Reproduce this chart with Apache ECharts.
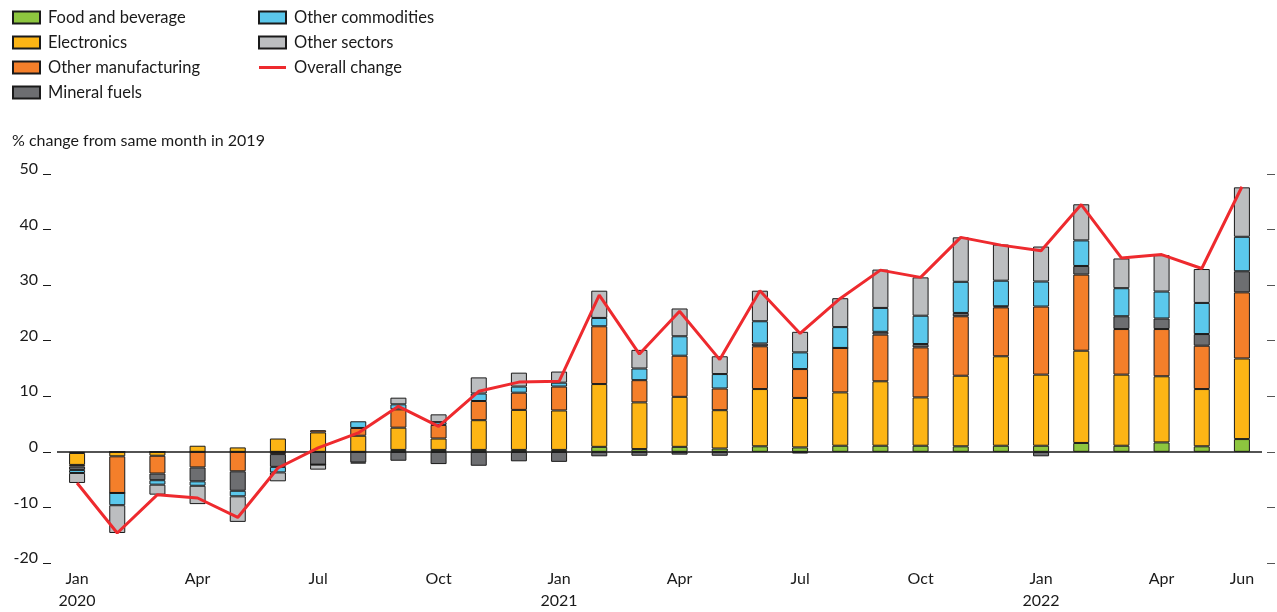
<!DOCTYPE html>
<html><head><meta charset="utf-8">
<script src="https://cdn.jsdelivr.net/npm/echarts@6/dist/echarts.min.js"></script>
<style>html,body{margin:0;padding:0;background:#fff}#c{width:1277px;height:612px}</style>
</head><body><div id="c"></div>
<script>
const months = ['Jan 2020','Feb 2020','Mar 2020','Apr 2020','May 2020','Jun 2020','Jul 2020','Aug 2020','Sep 2020','Oct 2020','Nov 2020','Dec 2020',
  'Jan 2021','Feb 2021','Mar 2021','Apr 2021','May 2021','Jun 2021','Jul 2021','Aug 2021','Sep 2021','Oct 2021','Nov 2021','Dec 2021',
  'Jan 2022','Feb 2022','Mar 2022','Apr 2022','May 2022','Jun 2022'];
const foodBeverage = [-0.2,0,0,0,0,0,0,0,0.35,0.35,0.35,0.35,0.35,0.9,0.5,0.9,0.6,1.0,0.8,1.1,1.1,1.1,1.0,1.1,1.1,1.6,1.1,1.7,1.0,2.3];
const electronics = [-2.15,-0.8,-0.7,1.1,0.8,2.4,3.5,2.9,4.0,2.05,5.35,7.2,7.1,11.3,8.4,9.0,6.9,10.3,8.9,9.6,11.6,8.7,12.7,16.1,12.8,16.6,12.8,11.9,10.3,14.5];
const otherManufacturing = [-0.3,-6.6,-3.2,-2.8,-3.5,-0.4,0.4,1.4,3.3,2.45,3.45,3.1,4.3,10.4,4.0,7.4,3.9,7.7,5.2,8.0,8.4,9.0,10.7,8.8,12.25,13.7,8.2,8.5,7.8,11.9];
const mineralFuels = [-0.6,0,-1.2,-2.5,-3.5,-2.3,-2.3,-1.9,-1.6,-2.2,-2.5,-1.7,-1.8,-0.8,-0.7,-0.5,-0.7,0.5,-0.3,0,0.5,0.6,0.6,0.2,-0.8,1.55,2.3,1.9,2.1,3.8];
const otherCommodities = [-0.55,-2.2,-0.8,-0.8,-1.0,-1.0,0,1.2,0.9,0.5,1.35,1.1,0.7,1.5,2.1,3.5,2.6,4.0,3.0,3.75,4.3,5.1,5.6,4.6,4.5,4.6,5.05,4.85,5.6,6.2];
const otherSectors = [-1.8,-5.0,-1.8,-3.3,-4.6,-1.6,-0.9,-0.2,1.2,1.4,2.9,2.5,2.0,4.9,3.35,5.0,3.2,5.5,3.7,5.2,6.9,6.9,8.0,6.5,6.3,6.5,5.35,6.55,6.1,8.9];
const overallChange = [-5.6,-14.6,-7.7,-8.3,-11.8,-2.9,0.7,3.4,8.2,4.6,10.9,12.55,12.7,28.2,17.6,25.3,16.6,29.0,21.3,27.6,32.7,31.4,38.6,37.2,36.2,44.5,34.9,35.5,33.0,47.7];
const yMin = -20, yMax = 50, yStep = 10;
const labelMonths = [0,3,6,9,12,15,18,21,24,27,29];

const FONT = 'Lato';
const chart = echarts.init(document.getElementById('c'), null, {renderer:'canvas'});
const barBase = {type:'bar', stack:'total', barWidth:16};
function bar(name, data, color, extra) {
  return Object.assign({}, barBase, {name, data, itemStyle:{color, borderColor:'#1a1a1a', borderWidth:1}}, extra||{});
}
const legendText = {fontFamily:FONT, fontSize:16.5, color:'#1a1a1a', lineHeight:16, padding:[0,0,0,3]};
const lineIcon = 'path://M0,0 L0,0.01 M27,12 L27,12.01 M0,4.6 L27,4.6 L27,7.4 L0,7.4 Z';
chart.setOption({
  animation:false,
  textStyle:{fontFamily:FONT},
  grid:{left:57, right:15, top:174, bottom:48.7},
  legend:[
    {left:12, top:9, padding:0, orient:'vertical', icon:'rect', itemWidth:27, itemHeight:12, itemGap:8, textStyle:legendText,
     data:['Food and beverage','Electronics','Other manufacturing','Mineral fuels']},
    {left:258, top:9, padding:0, orient:'vertical', icon:'rect', itemWidth:27, itemHeight:12, itemGap:8, textStyle:legendText,
     data:['Other commodities','Other sectors',{name:'Overall change', icon:lineIcon, itemStyle:{color:'#ee2a2e', borderWidth:0}}]}
  ],
  graphic:[{type:'text', left:12, top:133, style:{text:'% change from same month in 2019', font:'16px Lato', fill:'#1a1a1a'}}],
  xAxis:{type:'category', data:months, axisLine:{show:false}, axisTick:{show:false},
    axisLabel:{interval:(i)=>labelMonths.indexOf(i)>=0, margin:5, fontSize:16, lineHeight:22, color:'#1a1a1a', fontFamily:FONT,
      formatter:(v)=>{const p=v.split(' '); return p[0]==='Jan' ? p[0]+'\n'+p[1] : p[0];}}},
  yAxis:[
    {type:'value', min:yMin, max:yMax, interval:yStep, position:'left', offset:6,
     axisLine:{show:false}, axisTick:{show:true, length:8, lineStyle:{color:'#1a1a1a', width:1}},
     splitLine:{show:false},
     axisLabel:{margin:13, fontSize:16, color:'#1a1a1a', fontFamily:FONT, verticalAlign:'bottom', lineHeight:16, padding:[0,0,-3,0]}},
    {type:'value', min:yMin, max:yMax, interval:yStep, position:'right', offset:5,
     axisLine:{show:false}, axisTick:{show:true, length:8, lineStyle:{color:'#555', width:1}},
     splitLine:{show:false}, axisLabel:{show:false}}
  ],
  series:[
    bar('Food and beverage', foodBeverage, '#8dc63f', {markLine:{silent:true, symbol:'none', label:{show:false}, lineStyle:{color:'#1a1a1a', width:1.5, type:'solid'}, data:[{yAxis:0}]}}),
    bar('Electronics', electronics, '#fdb515'),
    bar('Other manufacturing', otherManufacturing, '#f47f2a'),
    bar('Mineral fuels', mineralFuels, '#6d6e71'),
    bar('Other commodities', otherCommodities, '#5bc8ec'),
    bar('Other sectors', otherSectors, '#bcbec0'),
    {type:'line', name:'Overall change', data:overallChange, symbol:'none', z:5,
     lineStyle:{color:'#ee2a2e', width:3}, itemStyle:{color:'#ee2a2e'}}
  ]
});
</script></body></html>
